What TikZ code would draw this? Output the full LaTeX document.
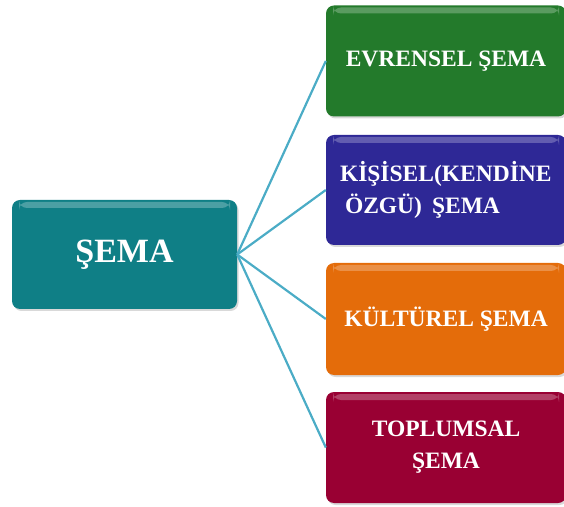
\documentclass[tikz,border=0pt]{standalone}
\usepackage{fontspec}
\setmainfont{Liberation Serif}
\usetikzlibrary{shadows}
\definecolor{tealbox}{RGB}{15,127,134}
\definecolor{greenbox}{RGB}{35,122,43}
\definecolor{bluebox}{RGB}{46,40,150}
\definecolor{orangebox}{RGB}{228,108,10}
\definecolor{redbox}{RGB}{153,0,51}
\definecolor{lineblue}{RGB}{75,172,198}
\begin{document}
\begin{tikzpicture}[x=1pt,y=1pt,
  kutu/.style={rounded corners=8pt, text=white, inner sep=0pt, align=center,
    font=\bfseries\fontsize{23.5}{32}\selectfont,
    minimum width=240pt, minimum height=111pt,
    drop shadow={opacity=0.3,shadow xshift=1.5pt,shadow yshift=-2pt},
    path picture={\fill[white,opacity=0.25]
      ([xshift=7pt,yshift=-2pt]path picture bounding box.north west) rectangle
      ([xshift=-7pt,yshift=-8pt]path picture bounding box.north east);}},
  bag/.style={draw=lineblue, line width=2.2pt}]
\useasboundingbox (0,0) rectangle (564,506);
% kutular
\node[kutu, fill=tealbox, minimum width=225pt, minimum height=109pt,
  font=\bfseries\fontsize{34}{40}\selectfont] (sema) at (124.5,251.5) {ŞEMA};
\node[kutu, fill=greenbox] (evrensel) at (446,445) {EVRENSEL ŞEMA};
\node[kutu, fill=bluebox, minimum height=110pt, align=left, text width=212pt] (kisisel) at (446,316)
  {KİŞİSEL(KENDİNE\\\hspace*{5pt}ÖZGÜ)\hspace{10pt}ŞEMA};
\node[kutu, fill=orangebox, minimum height=112pt] (kulturel) at (446,187) {KÜLTÜREL ŞEMA};
\node[kutu, fill=redbox] (toplumsal) at (446,58.5) {TOPLUMSAL\\ŞEMA};
% bağlantılar
\draw[bag] (sema.east) -- (evrensel.west);
\draw[bag] (sema.east) -- (kisisel.west);
\draw[bag] (sema.east) -- (kulturel.west);
\draw[bag] (sema.east) -- (toplumsal.west);
\end{tikzpicture}
\end{document}
